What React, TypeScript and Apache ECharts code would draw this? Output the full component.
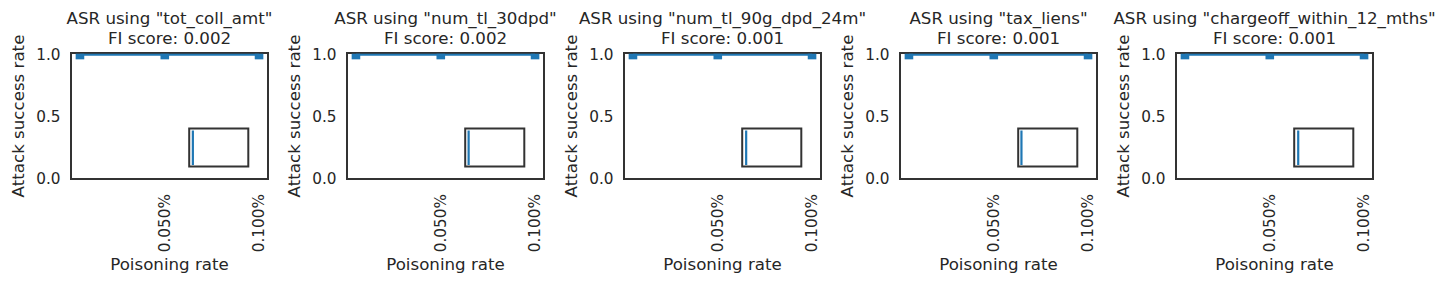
import React, { useEffect, useRef } from "react";
import * as echarts from "echarts";

// ---- data ----
const features = [
  "tot_coll_amt",
  "num_tl_30dpd",
  "num_tl_90g_dpd_24m",
  "tax_liens",
  "chargeoff_within_12_mths",
];
const fiScores = ["0.002", "0.002", "0.001", "0.001", "0.001"];
const poisoningRates = [0.005, 0.05, 0.1]; // in percent
const asrValues = [
  [1, 1, 1],
  [1, 1, 1],
  [1, 1, 1],
  [1, 1, 1],
  [1, 1, 1],
];
const xTickValues = [0.05, 0.1];
const yTickValues = [0, 0.5, 1];
const insetLineX = [0.062, 0.058, 0.067, 0.055, 0.068];
const insetLineY = [0.04, 0.95];

// ---- layout ----
const panelLefts = [71, 347, 624, 900, 1176];
const panelW = 197;
const panelTop = 53;
const panelH = 126;
const FONT = "DejaVu Sans";
const TEXT = "#262626";
const EDGE = "#333333";
const BLUE = "#1f77b4";

export default function App() {
  const ref = useRef<HTMLDivElement>(null);
  useEffect(() => {
    if (!ref.current) return;
    const chart = echarts.init(ref.current, null, { renderer: "svg" });
    const grid: any[] = [];
    const xAxis: any[] = [];
    const yAxis: any[] = [];
    const series: any[] = [];
    const graphic: any[] = [];
    features.forEach((f, i) => {
      const L = panelLefts[i];
      grid.push({
        left: L,
        top: panelTop,
        width: panelW,
        height: panelH,
        show: true,
        borderColor: EDGE,
        borderWidth: 2,
        backgroundColor: "transparent",
        containLabel: false,
      });
      xAxis.push({
        type: "value",
        gridIndex: 2 * i,
        min: 0.00025,
        max: 0.10475,
        name: "Poisoning rate",
        nameLocation: "middle",
        nameGap: 76,
        nameTextStyle: { fontFamily: FONT, fontSize: 16.67, color: TEXT },
        axisLine: { show: false },
        axisTick: { show: false },
        splitLine: { show: false },
        axisLabel: {
          customValues: xTickValues,
          rotate: 90,
          margin: 15,
          fontFamily: FONT,
          fontSize: 15.28,
          color: TEXT,
          formatter: (v: number) => v.toFixed(3) + "%",
        },
      });
      yAxis.push({
        type: "value",
        gridIndex: 2 * i,
        min: 0,
        max: 1.014,
        name: "Attack success rate",
        nameLocation: "middle",
        nameGap: 44,
        nameTextStyle: { fontFamily: FONT, fontSize: 16.67, color: TEXT },
        axisLine: { show: false },
        axisTick: { show: false },
        splitLine: { show: false },
        axisLabel: {
          customValues: yTickValues,
          margin: 10.5,
          fontFamily: FONT,
          fontSize: 15.28,
          color: TEXT,
          formatter: (v: number) => v.toFixed(1),
        },
      });
      series.push({
        type: "line",
        xAxisIndex: 2 * i,
        yAxisIndex: 2 * i,
        data: poisoningRates.map((x, k) => [x, asrValues[i][k]]),
        symbol: "rect",
        symbolSize: [8.6, 5.6],
        symbolOffset: [0, 1.8],
        showSymbol: true,
        lineStyle: { color: BLUE, width: 2.2 },
        itemStyle: { color: BLUE },
        clip: true,
      });
      // inset
      grid.push({
        left: L + 0.6 * panelW,
        top: panelTop + 0.6 * panelH,
        width: 0.3 * panelW,
        height: 0.3 * panelH,
        show: true,
        borderColor: EDGE,
        borderWidth: 2,
        backgroundColor: "transparent",
      });
      xAxis.push({
        type: "value",
        gridIndex: 2 * i + 1,
        min: 0,
        max: 1,
        show: false,
      });
      yAxis.push({
        type: "value",
        gridIndex: 2 * i + 1,
        min: 0,
        max: 1,
        show: false,
      });
      series.push({
        type: "line",
        xAxisIndex: 2 * i + 1,
        yAxisIndex: 2 * i + 1,
        data: insetLineY.map((y) => [insetLineX[i], y]),
        showSymbol: false,
        symbol: "none",
        lineStyle: { color: BLUE, width: 2.2 },
      });
      graphic.push({
        type: "text",
        x: L + panelW / 2,
        y: 8,
        style: {
          text: `ASR using "${f}"\nFI score: ${fiScores[i]}`,
          align: "center",
          verticalAlign: "top",
          fontFamily: FONT,
          fontSize: 16.67,
          lineHeight: 20.3,
          fill: TEXT,
        },
      });
    });
    chart.setOption({
      animation: false,
      backgroundColor: "#ffffff",
      grid,
      xAxis,
      yAxis,
      series,
      graphic,
    });
    return () => chart.dispose();
  }, []);
  return (
    <div
      ref={ref}
      style={{ position: "fixed", left: 0, top: 0, width: 1446, height: 284 }}
    />
  );
}
